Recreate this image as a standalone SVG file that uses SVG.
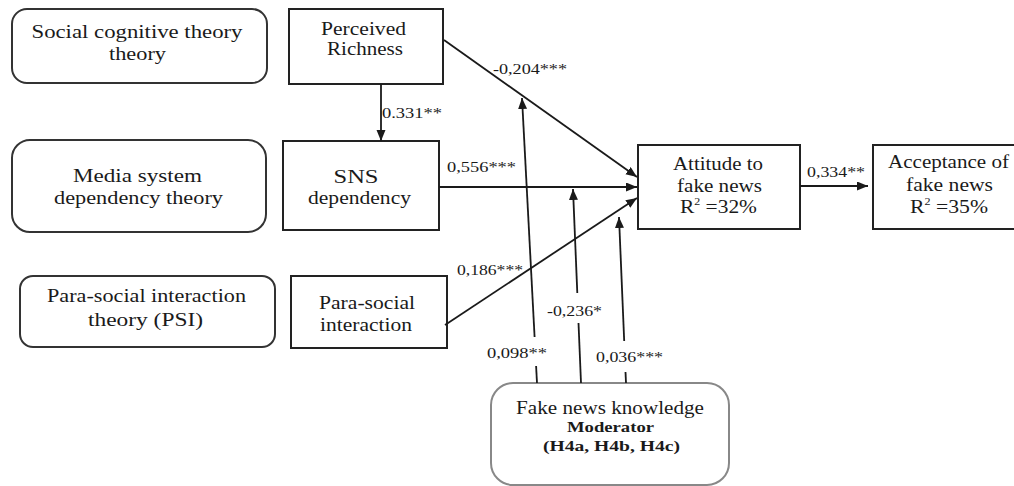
<svg xmlns="http://www.w3.org/2000/svg" width="1014" height="486" viewBox="0 0 1014 486">
<style>
text{font-family:"Liberation Serif","Times New Roman",serif;fill:#1a1a1a;text-anchor:middle}
.t{font-size:18px}
.l{font-size:14.5px;text-anchor:start}
.b{font-size:14px;font-weight:bold}
.rb{fill:#fff;stroke:#333;stroke-width:2}
.bx{fill:#fff;stroke:#222;stroke-width:2}
.cn line{stroke:#1a1a1a;stroke-width:1.8}
</style>
<defs>
<marker id="ah" markerUnits="userSpaceOnUse" markerWidth="12" markerHeight="10" refX="11" refY="4.5" orient="auto">
<path d="M0,0 L11,4.5 L0,9 z" fill="#1a1a1a"/>
</marker>
</defs>
<rect width="1014" height="486" fill="#fff"/>

<g id="theory-social">
<rect class="rb" x="12" y="9" width="255" height="74" rx="15"/>
<text class="t" x="137" y="38" textLength="211" lengthAdjust="spacingAndGlyphs">Social cognitive theory</text>
<text class="t" x="137.5" y="60" textLength="57" lengthAdjust="spacingAndGlyphs">theory</text>
</g>
<g id="theory-media">
<rect class="rb" x="12" y="140" width="254" height="92" rx="18"/>
<text class="t" x="137.5" y="182" textLength="129" lengthAdjust="spacingAndGlyphs">Media system</text>
<text class="t" x="138.5" y="204" textLength="169" lengthAdjust="spacingAndGlyphs">dependency theory</text>
</g>
<g id="theory-psi">
<rect class="rb" x="20" y="276" width="255" height="71" rx="13"/>
<text class="t" x="146.5" y="302" textLength="199" lengthAdjust="spacingAndGlyphs">Para-social interaction</text>
<text class="t" x="145.5" y="326" textLength="115" lengthAdjust="spacingAndGlyphs">theory (PSI)</text>
</g>

<g id="perceived-richness">
<rect class="bx" x="289" y="9" width="154" height="75"/>
<text class="t" x="363.5" y="35" textLength="85" lengthAdjust="spacingAndGlyphs">Perceived</text>
<text class="t" x="365" y="55" textLength="76" lengthAdjust="spacingAndGlyphs">Richness</text>
</g>
<g id="sns-dependency">
<rect class="bx" x="283" y="141" width="156" height="89"/>
<text class="t" x="356" y="183" textLength="45" lengthAdjust="spacingAndGlyphs">SNS</text>
<text class="t" x="359.5" y="204" textLength="103" lengthAdjust="spacingAndGlyphs">dependency</text>
</g>
<g id="para-social">
<rect class="bx" x="291" y="276" width="156" height="72"/>
<text class="t" x="367" y="309" textLength="96" lengthAdjust="spacingAndGlyphs">Para-social</text>
<text class="t" x="366" y="331" textLength="92" lengthAdjust="spacingAndGlyphs">interaction</text>
</g>
<g id="attitude">
<rect class="bx" x="638" y="145" width="162" height="84"/>
<text class="t" x="718" y="170" textLength="90" lengthAdjust="spacingAndGlyphs">Attitude to</text>
<text class="t" x="719.5" y="192" textLength="85" lengthAdjust="spacingAndGlyphs">fake news</text>
<text class="t" x="718.5" y="213" textLength="77" lengthAdjust="spacingAndGlyphs">R<tspan font-size="10" dy="-8">2</tspan><tspan dy="8"> =32%</tspan></text>
</g>
<g id="acceptance">
<rect class="bx" x="873" y="145" width="154" height="84"/>
<text class="t" x="948.5" y="168" textLength="121" lengthAdjust="spacingAndGlyphs">Acceptance of</text>
<text class="t" x="949.5" y="191" textLength="87" lengthAdjust="spacingAndGlyphs">fake news</text>
<text class="t" x="949" y="213" textLength="78" lengthAdjust="spacingAndGlyphs">R<tspan font-size="10" dy="-8">2</tspan><tspan dy="8"> =35%</tspan></text>
</g>
<g id="fake-news-knowledge">
<rect x="491" y="383" width="238" height="102" rx="22" fill="#fff" stroke="#888" stroke-width="2"/>
<text x="610" y="414" font-size="18.5" textLength="188" lengthAdjust="spacingAndGlyphs">Fake news knowledge</text>
<text class="b" x="610.5" y="432" textLength="87" lengthAdjust="spacingAndGlyphs">Moderator</text>
<text class="b" x="611.5" y="451" textLength="137" lengthAdjust="spacingAndGlyphs">(H4a, H4b, H4c)</text>
</g>

<g id="connectors" class="cn">
<line x1="381" y1="84" x2="381" y2="141" marker-end="url(#ah)"/>
<line x1="444" y1="40" x2="637" y2="177" marker-end="url(#ah)"/>
<line x1="439" y1="187" x2="637" y2="187" marker-end="url(#ah)"/>
<line x1="445" y1="325" x2="637" y2="198" marker-end="url(#ah)"/>
<line x1="800" y1="186" x2="868" y2="186" marker-end="url(#ah)"/>
<line x1="537" y1="383" x2="536.1" y2="366"/>
<line x1="534.6" y1="337" x2="522" y2="98" marker-end="url(#ah)"/>
<line x1="581" y1="383" x2="578.5" y2="323"/>
<line x1="577.3" y1="293" x2="573" y2="189" marker-end="url(#ah)"/>
<line x1="626" y1="383" x2="625.5" y2="372"/>
<line x1="624.2" y1="341" x2="619" y2="217" marker-end="url(#ah)"/>
</g>

<g id="labels">
<text class="l" x="493" y="74" textLength="74" lengthAdjust="spacingAndGlyphs">-0,204***</text>
<text class="l" x="382" y="118" textLength="60" lengthAdjust="spacingAndGlyphs">0.331**</text>
<text class="l" x="447" y="172" textLength="69" lengthAdjust="spacingAndGlyphs">0,556***</text>
<text class="l" x="807" y="177" textLength="58" lengthAdjust="spacingAndGlyphs">0,334**</text>
<text class="l" x="457" y="275" textLength="66" lengthAdjust="spacingAndGlyphs">0,186***</text>
<text class="l" x="547" y="316" textLength="55" lengthAdjust="spacingAndGlyphs">-0,236*</text>
<text class="l" x="487" y="358" textLength="60" lengthAdjust="spacingAndGlyphs">0,098**</text>
<text class="l" x="596" y="362" textLength="67" lengthAdjust="spacingAndGlyphs">0,036***</text>
</g>
</svg>
